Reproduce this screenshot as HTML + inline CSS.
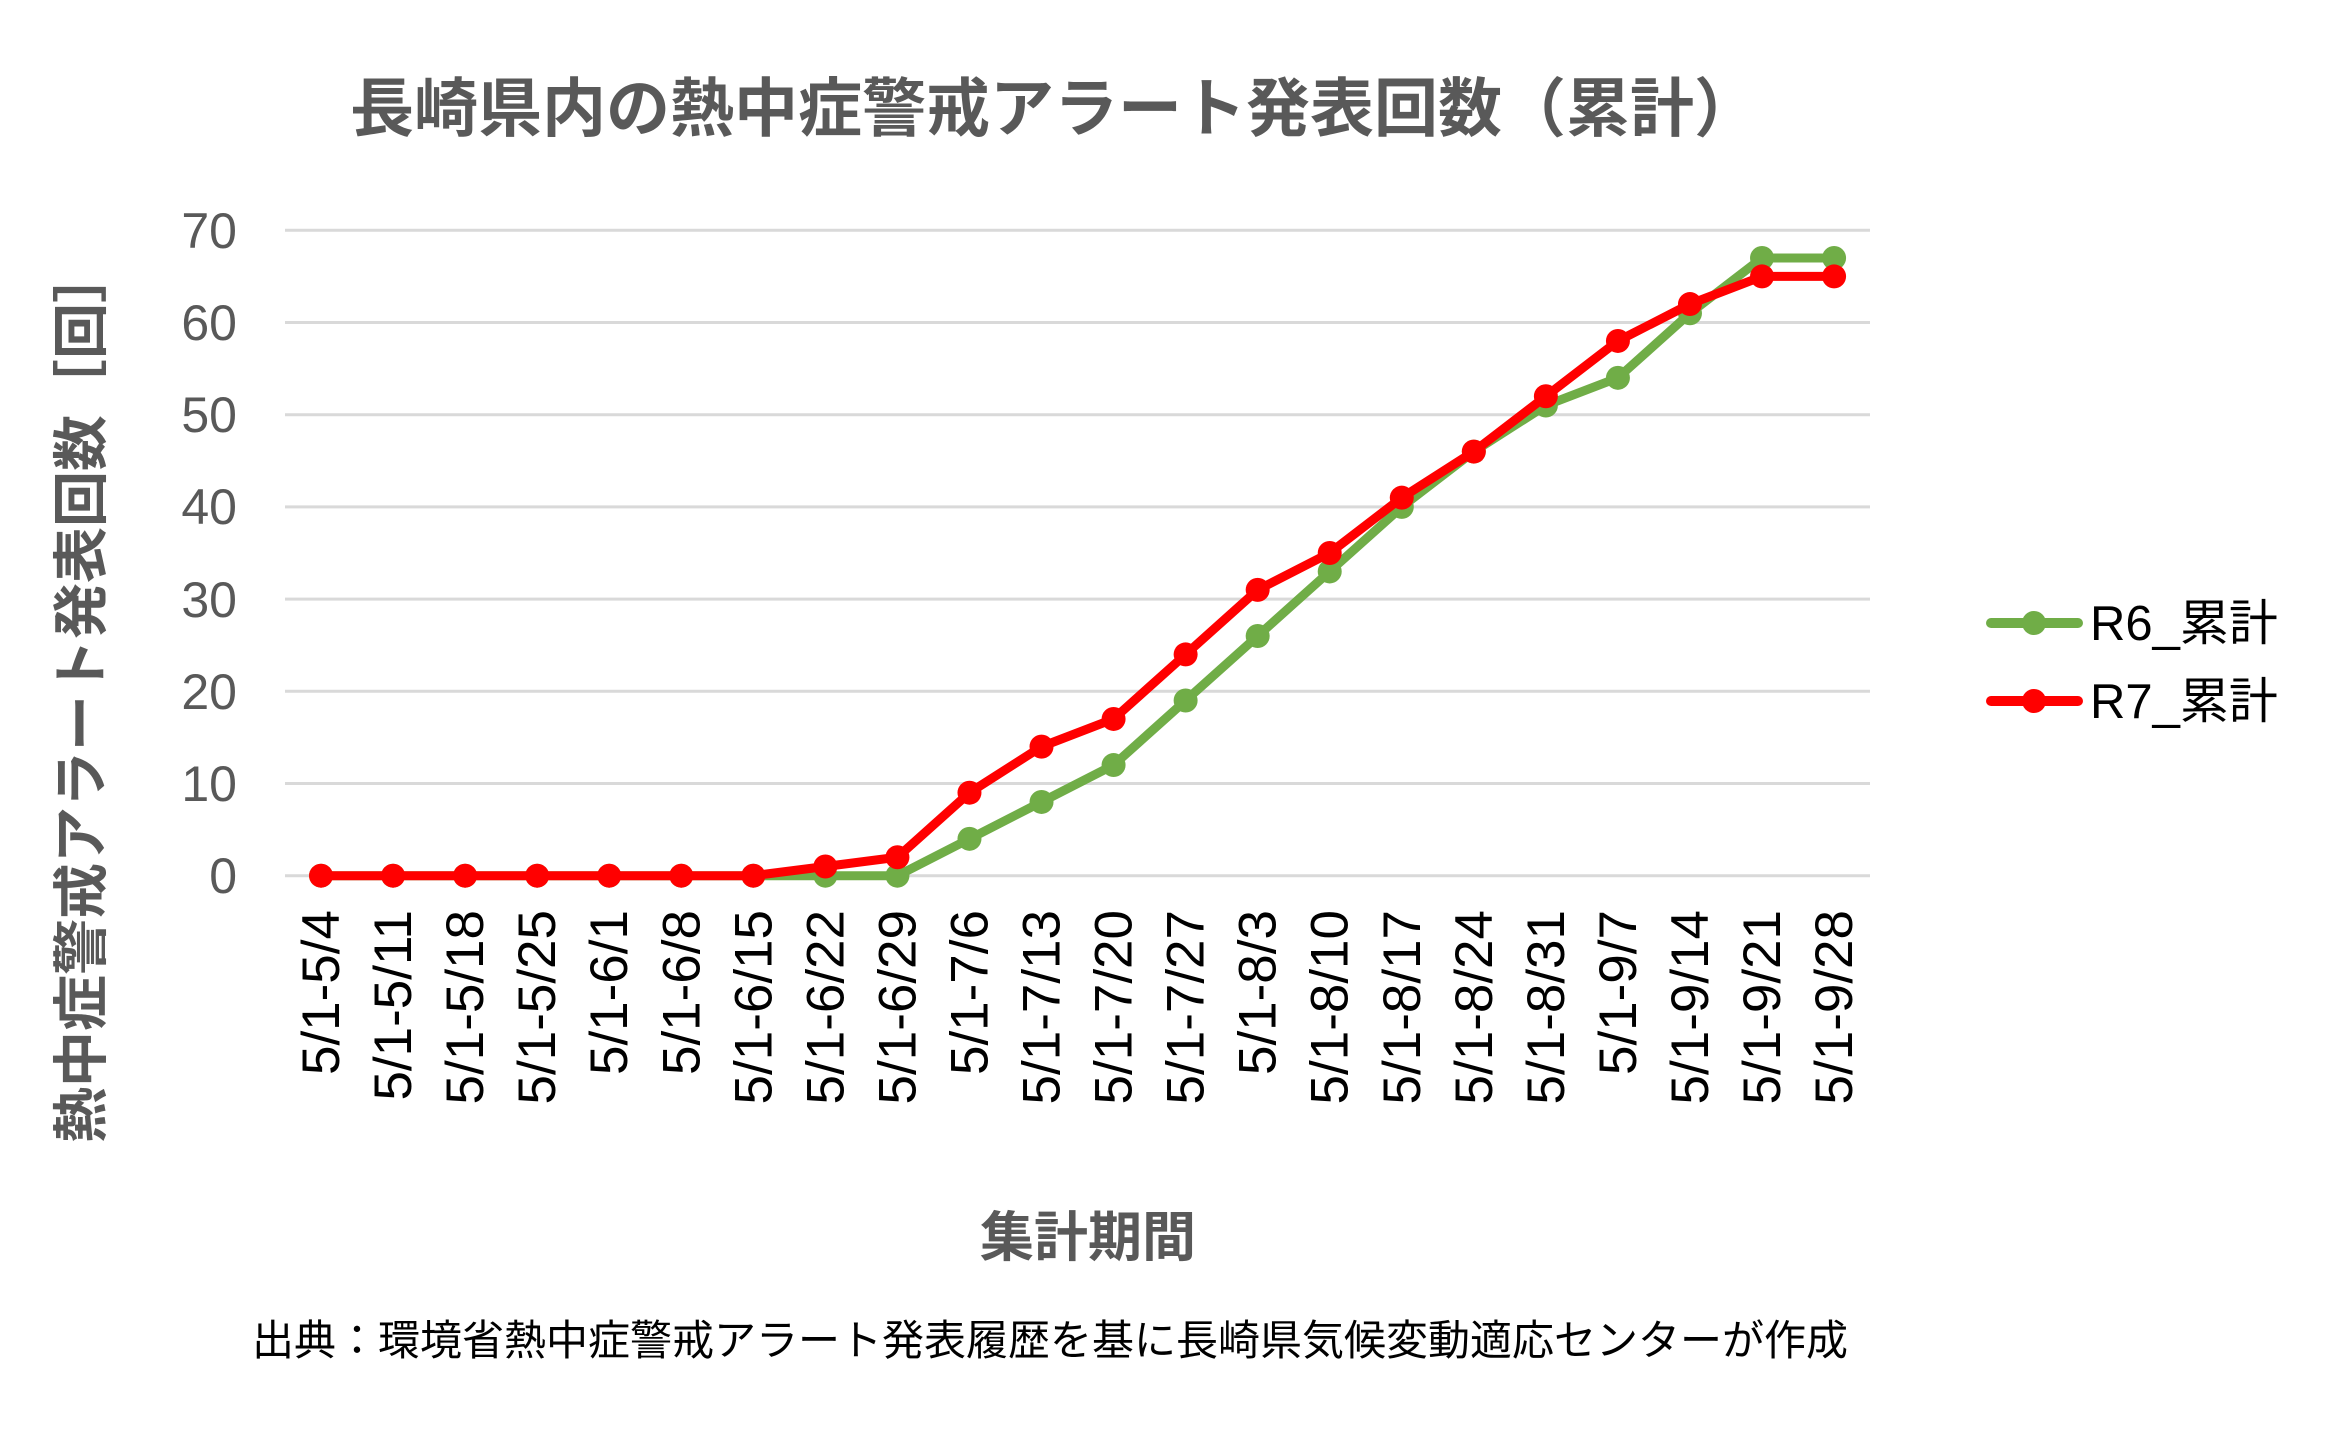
<!DOCTYPE html>
<html><head><meta charset="utf-8"><style>
html,body{margin:0;padding:0;background:#fff;}
svg{display:block;}
text{font-family:"Liberation Sans","Noto Sans CJK JP",sans-serif;}
</style></head><body>
<svg width="2348" height="1434" viewBox="0 0 2348 1434" xmlns="http://www.w3.org/2000/svg">
<rect width="2348" height="1434" fill="#fff"/>
<text x="1054" y="131" text-anchor="middle" font-size="64" font-weight="bold" fill="#595959">長崎県内の熱中症警戒アラート発表回数（累計）</text>
<g stroke="#d9d9d9" stroke-width="3">
<line x1="285" x2="1870" y1="230.3" y2="230.3"/>
<line x1="285" x2="1870" y1="322.5" y2="322.5"/>
<line x1="285" x2="1870" y1="414.7" y2="414.7"/>
<line x1="285" x2="1870" y1="506.9" y2="506.9"/>
<line x1="285" x2="1870" y1="599.1" y2="599.1"/>
<line x1="285" x2="1870" y1="691.3" y2="691.3"/>
<line x1="285" x2="1870" y1="783.5" y2="783.5"/>
<line x1="285" x2="1870" y1="875.7" y2="875.7"/>
</g>
<g font-size="50" fill="#595959" text-anchor="end">
<text x="237" y="248">70</text><text x="237" y="340">60</text><text x="237" y="432">50</text><text x="237" y="524">40</text>
<text x="237" y="617">30</text><text x="237" y="709">20</text><text x="237" y="801">10</text><text x="237" y="893">0</text>
</g>
<text transform="translate(101,695) rotate(-90)" text-anchor="middle" font-size="56" font-weight="bold" fill="#595959">熱中症警戒アラート発表回数［回］</text>
<g id="xl" font-size="53" fill="#000" text-anchor="end"></g>
<text x="1088" y="1256" text-anchor="middle" font-size="54" font-weight="bold" fill="#595959">集計期間</text>
<text x="1050" y="1355" text-anchor="middle" font-size="42" fill="#000">出典：環境省熱中症警戒アラート発表履歴を基に長崎県気候変動適応センターが作成</text>
<g id="series"></g>
<line x1="1991" x2="2078" y1="623" y2="623" stroke="#70AD47" stroke-width="10" stroke-linecap="round"/>
<circle cx="2034" cy="623" r="12" fill="#70AD47"/>
<line x1="1991" x2="2078" y1="701" y2="701" stroke="#FF0000" stroke-width="10" stroke-linecap="round"/>
<circle cx="2034" cy="701" r="12" fill="#FF0000"/>
<text x="2090" y="640" font-size="49" fill="#000">R6_累計</text>
<text x="2090" y="718" font-size="49" fill="#000">R7_累計</text>
</svg>
<script>
var labels=["5/1-5/4","5/1-5/11","5/1-5/18","5/1-5/25","5/1-6/1","5/1-6/8","5/1-6/15","5/1-6/22","5/1-6/29","5/1-7/6","5/1-7/13","5/1-7/20","5/1-7/27","5/1-8/3","5/1-8/10","5/1-8/17","5/1-8/24","5/1-8/31","5/1-9/7","5/1-9/14","5/1-9/21","5/1-9/28"];
var r6=[0,0,0,0,0,0,0,0,0,4,8,12,19,26,33,40,46,51,54,61,67,67];
var r7=[0,0,0,0,0,0,0,1,2,9,14,17,24,31,35,41,46,52,58,62,65,65];
var ns="http://www.w3.org/2000/svg";
function X(i){return 285+72.05*(i+0.5);}
function Y(v){return 875.7-v*9.22;}
var xl=document.getElementById("xl");
labels.forEach(function(l,i){var t=document.createElementNS(ns,"text");t.setAttribute("transform","translate("+(X(i)+18)+",910) rotate(-90)");t.textContent=l;xl.appendChild(t);});
var g=document.getElementById("series");
[[r6,"#70AD47"],[r7,"#FF0000"]].forEach(function(s){
var p=document.createElementNS(ns,"polyline");
p.setAttribute("points",s[0].map(function(v,i){return X(i)+","+Y(v);}).join(" "));
p.setAttribute("fill","none");p.setAttribute("stroke",s[1]);p.setAttribute("stroke-width","9");p.setAttribute("stroke-linejoin","round");
g.appendChild(p);
s[0].forEach(function(v,i){var c=document.createElementNS(ns,"circle");c.setAttribute("cx",X(i));c.setAttribute("cy",Y(v));c.setAttribute("r","12");c.setAttribute("fill",s[1]);g.appendChild(c);});
});
</script>
</body></html>
